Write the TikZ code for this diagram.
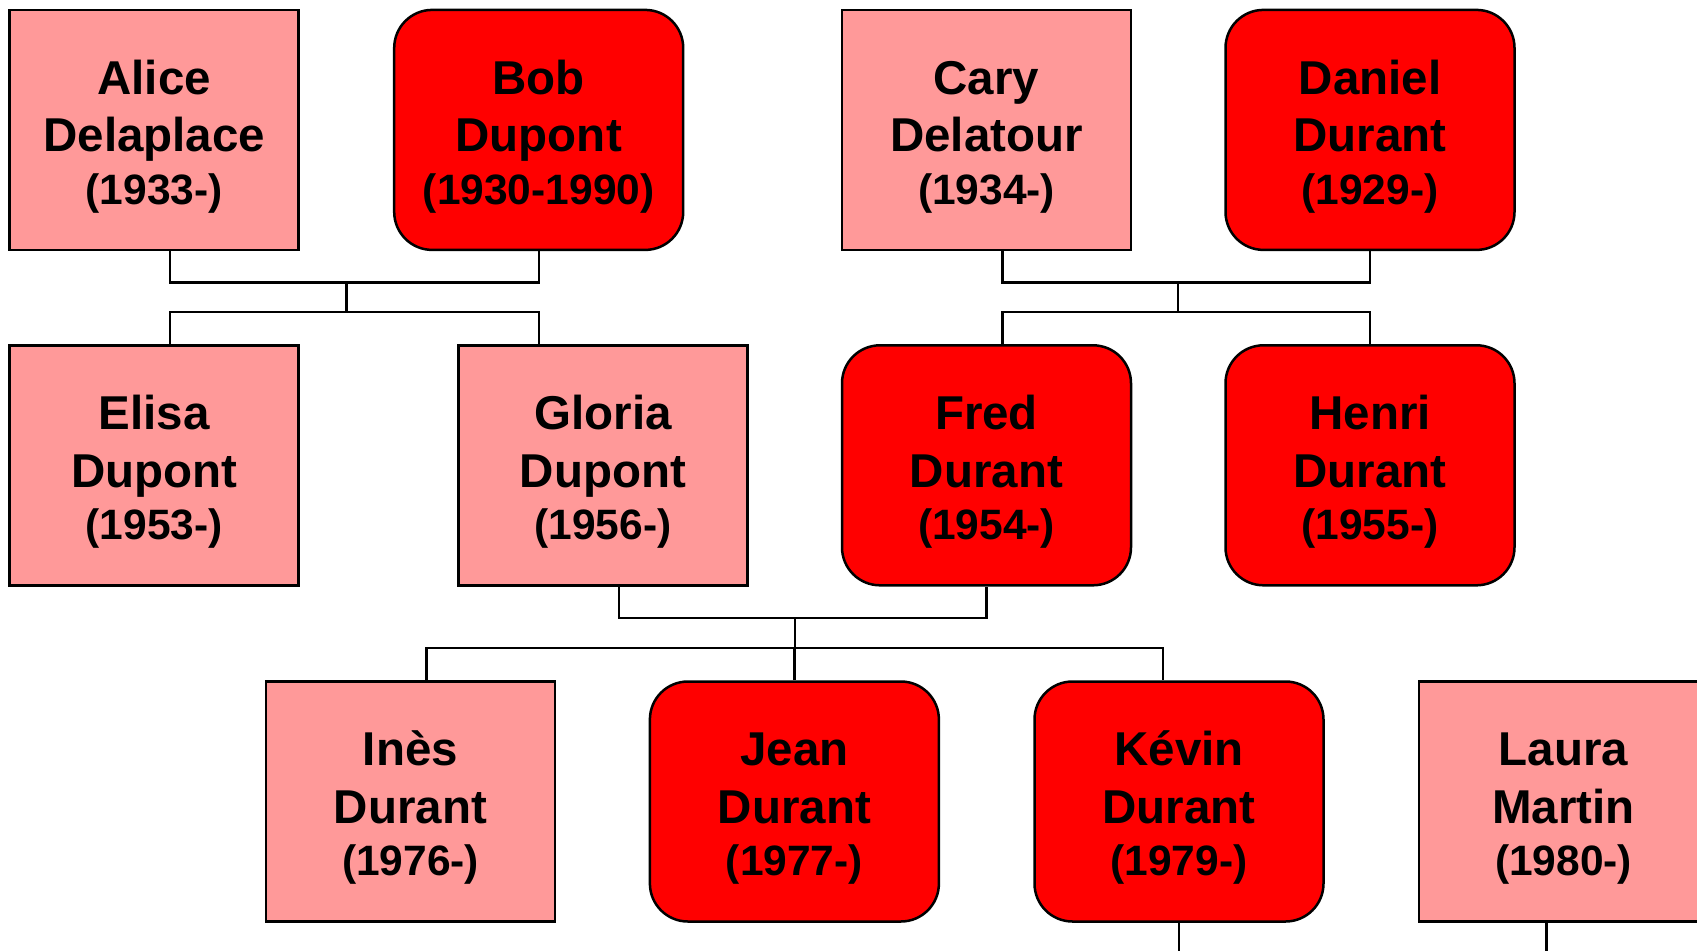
\documentclass[tikz,border=0pt]{standalone}
\usepackage{fontspec}
\setmainfont{Liberation Sans}
\usetikzlibrary{calc}
\definecolor{pinkfill}{RGB}{255,153,153}
\definecolor{redfill}{RGB}{255,0,0}
% top strut lowers the three text lines a little inside each box
\newcommand\toprule{\rule{0pt}{47.5pt}}
\newcommand\yearline[1]{{\fontsize{42.5pt}{50pt}\selectfont #1}}
\begin{document}
\begin{tikzpicture}[x=1pt,y=-1pt,
  person/.style={draw=black, line width=2.5pt, minimum width=289pt,
    minimum height=240pt, inner sep=0pt, align=center,
    font=\fontsize{47.5pt}{57.7pt}\selectfont\bfseries},
  pinkbox/.style={person, fill=pinkfill},
  redbox/.style={person, fill=redfill, rounded corners=38pt},
  link/.style={draw=black, line width=2.2pt}]
\useasboundingbox (0,0) rectangle (1697,951);
\clip (0,0) rectangle (1697,951);
\coordinate (edge) at (0,951);

% first generation
\node[pinkbox] (alice)  at (154.2,129.9) {\toprule Alice\\Delaplace\\[-5.5pt]\yearline{(1933-)}};
\node[redbox]  (bob)    at (538.7,129.9) {\toprule Bob\\Dupont\\[-5.5pt]\yearline{(1930-1990)}};
\node[pinkbox] (cary)   at (986.5,129.9) {\toprule Cary\\Delatour\\[-5.5pt]\yearline{(1934-)}};
\node[redbox]  (daniel) at (1370,129.9)  {\toprule Daniel\\Durant\\[-5.5pt]\yearline{(1929-)}};

% second generation
\node[pinkbox] (elisa)  at (154.2,465.3) {\toprule Elisa\\Dupont\\[-5.5pt]\yearline{(1953-)}};
\node[pinkbox] (gloria) at (603,465.3)   {\toprule Gloria\\Dupont\\[-5.5pt]\yearline{(1956-)}};
\node[redbox]  (fred)   at (986.5,465.3) {\toprule Fred\\Durant\\[-5.5pt]\yearline{(1954-)}};
\node[redbox]  (henri)  at (1370,465.3)  {\toprule Henri\\Durant\\[-5.5pt]\yearline{(1955-)}};

% third generation
\node[pinkbox] (ines)   at (410.5,801.5) {\toprule Inès\\Durant\\[-5.5pt]\yearline{(1976-)}};
\node[redbox]  (jean)   at (794.4,801.5) {\toprule Jean\\Durant\\[-5.5pt]\yearline{(1977-)}};
\node[redbox]  (kevin)  at (1179,801.5)  {\toprule Kévin\\Durant\\[-5.5pt]\yearline{(1979-)}};
\node[pinkbox] (laura)  at (1563.5,801.5) {\toprule Laura\\Martin\\[-5.5pt]\yearline{(1980-)}};

% Alice + Bob and their children
\draw[link] ([xshift=16pt]alice.south) -- ++(0,31.3) -| (bob.south);
\draw[link] ($(alice)!0.5!(bob)+(0,151.4)$) -- ++(0,31.7);
\draw[link] ([xshift=16pt]elisa.north) -- ++(0,-32) -| ([xshift=-64.3pt]gloria.north);

% Cary + Daniel and their children
\draw[link] ([xshift=16pt]cary.south) -- ++(0,31.3) -| (daniel.south);
\draw[link] ($(cary)!0.5!(daniel)+(0,151.4)$) -- ++(0,31.7);
\draw[link] ([xshift=16pt]fred.north) -- ++(0,-32) -| (henri.north);

% Gloria + Fred and their children
\draw[link] ([xshift=16pt]gloria.south) -- ++(0,31.5) -| (fred.south);
\draw[link] ($(gloria)!0.5!(fred)+(0,151.7)$) -- ++(0,32.4);
\draw[link] ([xshift=16pt]ines.north) -- ++(0,-32.6) -| ([xshift=-16pt]kevin.north);
\draw[link] (jean.north) -- ++(0,-32.6);

% lines running off the lower edge
\draw[link] (kevin.south) -- (kevin.south |- edge);
\draw[link] ([xshift=-17pt]laura.south) -- ([xshift=-17pt]laura.south |- edge);
\end{tikzpicture}
\end{document}
